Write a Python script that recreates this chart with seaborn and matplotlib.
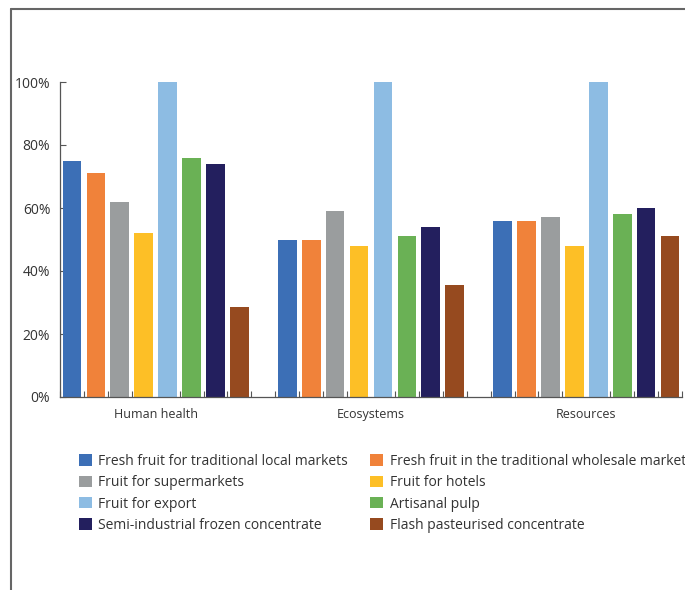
import pandas as pd
import numpy as np
import matplotlib.pyplot as plt
import matplotlib.lines as mlines
import seaborn as sns

categories = ['Human health', 'Ecosystems', 'Resources']
series = [
    'Fresh fruit for traditional local markets',
    'Fresh fruit in the traditional wholesale markets',
    'Fruit for supermarkets',
    'Fruit for hotels',
    'Fruit for export',
    'Artisanal pulp',
    'Semi-industrial frozen concentrate',
    'Flash pasteurised concentrate',
]
local_markets = [75, 50, 56]
wholesale = [71, 50, 56]
supermarkets = [62, 59, 57]
hotels = [52, 48, 48]
export = [100, 100, 100]
pulp = [76, 51, 58]
frozen = [74, 54, 60]
flash = [28.5, 35.5, 51]
colors = ['#3C6FB6', '#F0823A', '#9A9D9E', '#FDBF26',
          '#8DBCE3', '#6AB155', '#231F5E', '#964A1F']

values = [local_markets, wholesale, supermarkets, hotels, export, pulp, frozen, flash]
rows = []
for name, vals in zip(series, values):
    for cat, v in zip(categories, vals):
        rows.append({'category': cat, 'series': name, 'value': v})
df = pd.DataFrame(rows)

sns.set_style('white')
plt.rcParams['font.family'] = ['Open Sans', 'DejaVu Sans']
text_color = '#333333'

fig = plt.figure(figsize=(6.85, 5.9), dpi=100)
ax = fig.add_axes([60 / 685, 1 - 397 / 590, 622 / 685, 315 / 590])

sns.barplot(data=df, x='category', y='value', hue='series', order=categories,
            hue_order=series, palette=colors, width=8 / 9, gap=0.22,
            saturation=1, linewidth=0, edgecolor='none', ax=ax, legend=True)

ax.set_xlim(-4 / 9, 2 + 4 / 9)
ax.set_ylim(0, 100)
ax.set_yticks([0, 20, 40, 60, 80, 100])
ax.set_yticklabels(['0%', '20%', '40%', '60%', '80%', '100%'])
ax.set_xlabel('')
ax.set_ylabel('')
ax.set_xticks(range(len(categories)))
ax.set_xticklabels(categories)
ax.set_xticks(np.arange(-4, 23) / 9, minor=True)
ax.tick_params(axis='x', which='major', length=0, pad=8, labelsize=9, labelcolor=text_color)
ax.tick_params(axis='x', which='minor', direction='in', length=4, width=0.8,
               color='#555555', bottom=True)
ax.tick_params(axis='y', direction='in', length=4, width=0.8, color='#555555',
               left=True, pad=7, labelsize=10, labelcolor=text_color)
for s in ['top', 'right']:
    ax.spines[s].set_visible(False)
for s in ['left', 'bottom']:
    ax.spines[s].set_color('#555555')
    ax.spines[s].set_linewidth(0.9)

handles, labels = ax.get_legend_handles_labels()
ax.get_legend().remove()
order = [0, 2, 4, 6, 1, 3, 5, 7]
leg = fig.legend([handles[i] for i in order], [labels[i] for i in order],
                 ncol=2, loc='upper left', bbox_to_anchor=(79 / 685, 1 - 454 / 590),
                 frameon=False, fontsize=10, handlelength=0.9, handleheight=0.9,
                 handletextpad=0.5, labelspacing=0.45, columnspacing=1.6,
                 borderaxespad=0, borderpad=0)
for t in leg.get_texts():
    t.set_color(text_color)

fig.add_artist(mlines.Line2D([10.5 / 685, 10.5 / 685], [0, 1 - 9 / 590],
                             color='#666666', lw=1.5))
fig.add_artist(mlines.Line2D([10.5 / 685, 1], [1 - 9 / 590, 1 - 9 / 590],
                             color='#666666', lw=1.5))

fig.savefig('out.png', dpi=100)
